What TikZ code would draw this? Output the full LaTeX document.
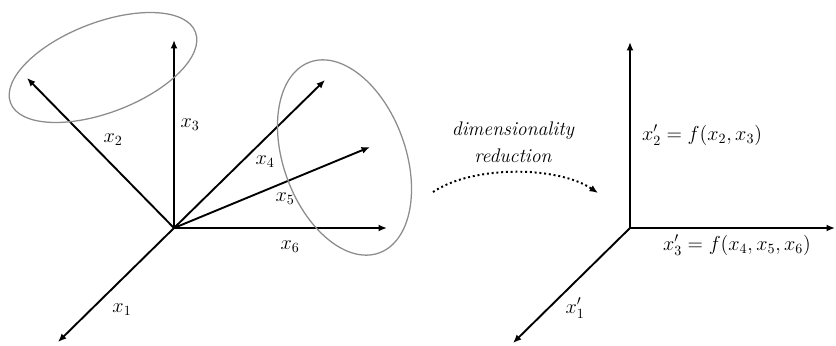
\documentclass[tikz,border=0pt]{standalone}
\usetikzlibrary{arrows.meta}

\begin{document}
\begin{tikzpicture}[
  x=0.025cm, y=0.025cm,
  axis/.style={-{Latex[length=6pt,width=5pt]}, line width=1.35pt},
  lbl/.style={font=\fontsize{14}{16}\selectfont, inner sep=1pt},
  blob/.style={draw=gray!90, line width=0.9pt},
  reduce/.style={-{Latex[length=6pt,width=5pt]}, dotted, line width=1.4pt}
]
  \useasboundingbox (0,0) rectangle (836,345);

  % Original space
  \coordinate (o) at (174,117);
  \coordinate (x1) at (58,3);
  \coordinate (x2) at (27,267);
  \coordinate (x3) at (174,305);
  \coordinate (x4) at (325,265);
  \coordinate (x5) at (370,198);
  \coordinate (x6) at (387,117);

  \draw[axis] (o) -- (x1);
  \draw[axis] (o) -- (x2);
  \draw[axis] (o) -- (x3);
  \draw[axis] (o) -- (x4);
  \draw[axis] (o) -- (x5);
  \draw[axis] (o) -- (x6);

  \node[lbl] (l1) at (122,35) {$x_1$};
  \node[lbl] (l2) at (113,205) {$x_2$};
  \node[lbl] (l3) at (190,220) {$x_3$};
  \node[lbl] (l4) at (265,183) {$x_4$};
  \node[lbl] (l5) at (285,146) {$x_5$};
  \node[lbl] (l6) at (290,98) {$x_6$};

  % Groups
  \draw[blob, rotate around={21:(103,277.5)}] (103,277.5) ellipse [x radius=99, y radius=45];
  \draw[blob, rotate around={20:(344.5,187.5)}] (344.5,187.5) ellipse [x radius=61, y radius=101.5];

  % Reduction
  \node[lbl, align=center, font=\fontsize{14}{19}\selectfont\itshape] (dr) at (513,203) {dimensionality\\reduction};
  \coordinate (ra) at (433,153);
  \coordinate (rb) at (598,152);
  \draw[reduce] (ra) .. controls +(40,27) and +(-40,27) .. (rb);

  % Reduced space
  \coordinate (p) at (630,117);
  \coordinate (p1) at (513,2);
  \coordinate (p2) at (630,303);
  \coordinate (p3) at (835,117);

  \draw[axis] (p) -- (p1);
  \draw[axis] (p) -- (p2);
  \draw[axis] (p) -- (p3);

  \node[lbl] (m1) at (575,37) {$x_1'$};
  \node[lbl] (m2) at (702,210) {$x_2' = f(x_2, x_3)$};
  \node[lbl] (m3) at (737,100) {$x_3' = f(x_4, x_5, x_6)$};
\end{tikzpicture}
\end{document}
